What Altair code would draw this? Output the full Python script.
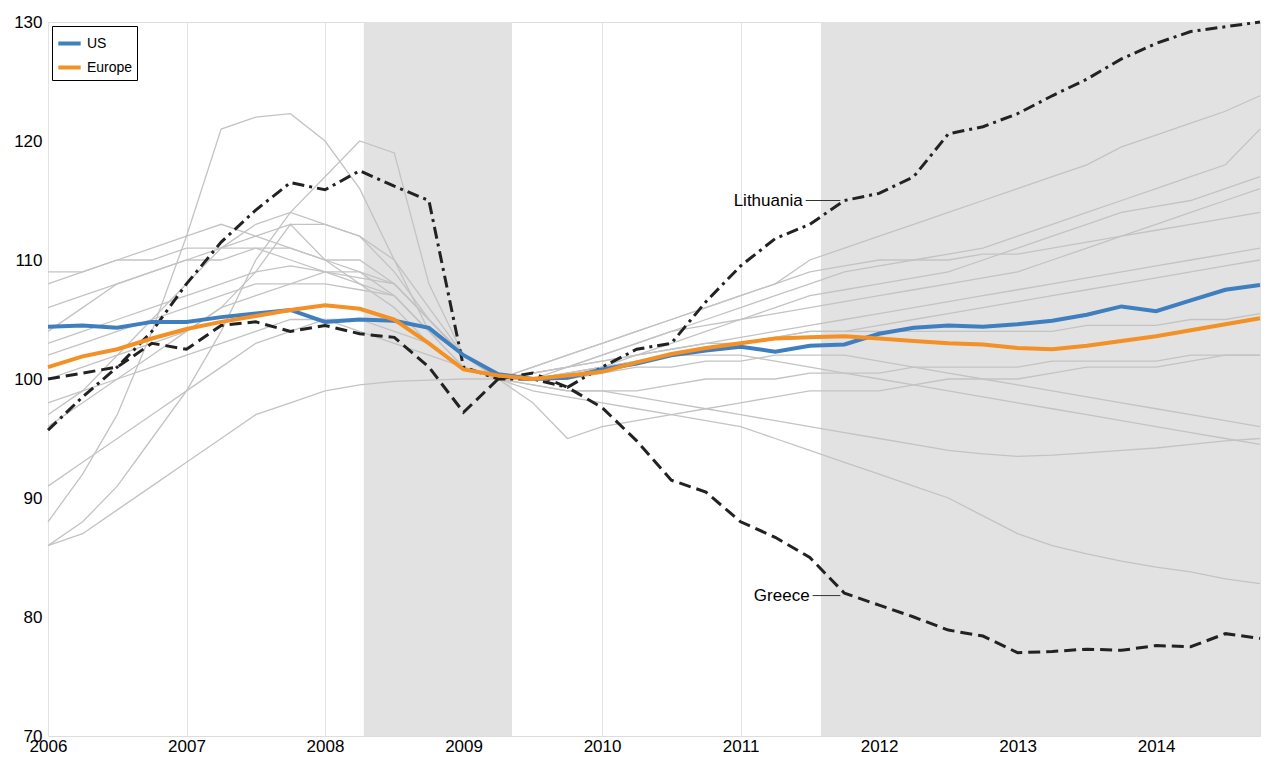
import pandas as pd
import altair as alt

years = [2006 + q * 0.25 for q in range(36)]

us = [104.4, 104.5, 104.3, 104.8, 104.8, 105.2, 105.5, 105.8, 104.8, 105.0, 104.9, 104.3,
      102.0, 100.4, 100.0, 100.1, 100.8, 101.3, 102.0, 102.4, 102.7, 102.3, 102.8, 102.9,
      103.8, 104.3, 104.5, 104.4, 104.6, 104.9, 105.4, 106.1, 105.7, 106.6, 107.5, 107.9]
europe = [101.0, 101.9, 102.5, 103.4, 104.2, 104.8, 105.3, 105.8, 106.2, 105.9, 105.0, 103.0,
          100.8, 100.3, 100.0, 100.3, 100.6, 101.4, 102.1, 102.6, 103.0, 103.4, 103.5, 103.6,
          103.4, 103.2, 103.0, 102.9, 102.6, 102.5, 102.8, 103.2, 103.6, 104.1, 104.6, 105.1]
lithuania = [95.7, 98.5, 101.0, 104.0, 108.0, 111.5, 114.2, 116.5, 115.9, 117.5, 116.2, 115.0,
             101.0, 100.0, 100.0, 99.3, 101.0, 102.5, 103.0, 106.5, 109.5, 111.8, 113.0, 115.0,
             115.6, 117.0, 120.6, 121.2, 122.3, 123.8, 125.2, 126.9, 128.2, 129.2, 129.6, 130.0]
greece = [100.0, 100.5, 101.0, 103.0, 102.5, 104.5, 104.8, 104.0, 104.5, 103.8, 103.5, 101.0,
          97.2, 100.0, 100.5, 99.3, 97.6, 94.8, 91.5, 90.5, 88.0, 86.7, 85.0, 82.0,
          81.0, 80.0, 78.9, 78.4, 77.0, 77.1, 77.3, 77.2, 77.6, 77.5, 78.6, 78.2]

others = [
    [88, 92, 97, 104, 112, 121, 122, 122.3, 120, 116, 110, 104, 101, 100, 100.5, 101, 102, 103, 104, 104.5,
     105, 105.5, 106, 106.5, 107, 107.5, 108, 108.5, 109, 110, 111, 112, 113, 114, 115, 116],
    [86, 88, 91, 95, 99, 104, 110, 114, 117, 120, 119, 108, 102, 100, 99.5, 99, 99, 98.5, 98, 97.5,
     97, 96.5, 96, 95.5, 95, 94.5, 94, 93.7, 93.5, 93.6, 93.8, 94, 94.2, 94.5, 94.8, 95],
    [97, 99, 102, 105, 108, 111, 113, 114, 113, 112, 109, 105, 102, 100, 101, 102, 103, 104, 105, 106,
     107, 108, 110, 111, 112, 113, 114, 115, 116, 117, 118, 119.5, 120.5, 121.5, 122.5, 123.8],
    [104, 106, 108, 109, 110, 110, 111, 111, 110, 109, 107, 104, 102, 100, 99, 98.5, 98, 97.5, 97, 96.5,
     96, 95, 94, 93, 92, 91, 90, 88.5, 87, 86, 85.3, 84.7, 84.2, 83.8, 83.2, 82.8],
    [108, 109, 110, 111, 112, 113, 112, 111, 110, 110, 108, 105, 102, 100, 101, 102, 103, 104, 105, 106,
     107, 108, 109, 109.5, 110, 110, 110.5, 111, 112, 113, 114, 115, 116, 117, 118, 121],
    [86, 87, 89, 91, 93, 95, 97, 98, 99, 99.5, 99.8, 99.9, 100, 100, 100.5, 101, 101.5, 102, 102.5, 103,
     103.5, 104, 104.5, 105, 105.5, 106, 106.5, 107, 107.5, 108, 108.5, 109, 109.5, 110, 110.5, 111],
    [100, 101, 102, 103, 104, 106, 109, 113, 110, 108, 106, 103, 101, 100, 98, 95, 96, 96.5, 97, 97.5,
     98, 98.5, 99, 99, 99, 99.5, 100, 100, 100, 100.5, 101, 101, 101, 101.5, 102, 102],
    [102, 103, 104, 105, 106, 107, 108, 108, 108, 107.5, 107, 104, 101, 100, 100, 100.5, 101, 101.5, 102, 102,
     102, 101.5, 101, 100.5, 100, 99.5, 99, 98.5, 98, 97.5, 97, 96.5, 96, 95.5, 95, 94.5],
    [109, 109, 110, 110, 111, 111, 111, 110, 109, 108, 107, 104, 102, 100, 100.5, 101, 101.5, 102, 102.5, 103,
     103, 103.5, 104, 104, 104.5, 105, 105.5, 106, 106.5, 107, 107.5, 108, 108.5, 109, 109.5, 110],
    [98, 99, 100, 101, 102, 103, 104, 105, 105, 104, 103, 102, 101, 100, 99.5, 99, 99, 99, 99.5, 100,
     100, 100, 100.5, 100.5, 100.5, 101, 101, 101, 101, 101.5, 101.5, 101.5, 101.5, 102, 102, 102],
    [91, 93, 95, 97, 99, 101, 103, 104, 105, 105, 104, 103, 101, 100, 100, 100.5, 101, 102, 103, 104,
     105, 106, 107, 107.5, 108, 108.5, 109, 110, 111, 112, 113, 114, 114.5, 115, 116, 117],
    [106, 107, 108, 109, 110, 111, 112, 113, 113, 112, 110, 106, 102, 100, 100, 100, 100.5, 101, 101, 101.5,
     101.5, 102, 102, 102, 101.5, 101, 100.5, 100, 99.5, 99, 98.5, 98, 97.5, 97, 96.5, 96],
    [103, 104, 105, 106, 107, 108, 109, 109.5, 109, 109, 108, 105, 102, 100, 100, 100.5, 101, 101.5, 102, 102.5,
     103, 103.5, 104, 104, 104, 104, 104, 104, 104, 104, 104.5, 104.5, 104.5, 105, 105, 105.5],
    [96, 98, 100, 102, 104, 106, 107, 108, 109, 108.5, 108, 105, 102, 100, 100, 101, 102, 103, 104, 105,
     106, 107, 108, 109, 109.5, 110, 110, 110.5, 110.5, 111, 111.5, 112, 112.5, 113, 113.5, 114],
]

recessions = pd.DataFrame({"start": [2008.28, 2011.58], "end": [2009.35, 2014.75]})

rows = []
for i, s in enumerate(others):
    rows += [{"year": y, "value": v, "country": f"c{i}"} for y, v in zip(years, s)]
grey = pd.DataFrame(rows)
main = pd.DataFrame(
    [{"year": y, "value": v, "series": "US"} for y, v in zip(years, us)]
    + [{"year": y, "value": v, "series": "Europe"} for y, v in zip(years, europe)]
)
lt = pd.DataFrame({"year": years, "value": lithuania})
gr = pd.DataFrame({"year": years, "value": greece})

xs = alt.Scale(domain=[2006, 2014.75], nice=False, zero=False)
ys = alt.Scale(domain=[70, 130], nice=False, zero=False)
X = alt.X("year:Q", scale=xs, title=None,
          axis=alt.Axis(values=list(range(2006, 2015)), format="d", ticks=False, labelFlush=False,
                        labelFontSize=17, gridColor="#e3e3e3", domain=False, labelPadding=2))
Y = alt.Y("value:Q", scale=ys, title=None,
          axis=alt.Axis(values=list(range(70, 131, 10)), ticks=False, labelFontSize=17, labelFlush=False,
                        gridColor="#e3e3e3", domain=False, labelPadding=6))

shade = alt.Chart(recessions).mark_rect(color="#e2e2e2").encode(
    x=alt.X("start:Q", scale=xs), x2="end:Q", y=alt.datum(70, scale=ys), y2=alt.datum(130))

greys = alt.Chart(grey).mark_line(color="#c3c3c3", strokeWidth=1.3).encode(
    x=X, y=Y, detail="country:N")

lith = alt.Chart(lt).mark_line(color="#222222", strokeWidth=3, strokeDash=[12, 5, 3, 5]).encode(x=X, y=Y)
gree = alt.Chart(gr).mark_line(color="#222222", strokeWidth=3, strokeDash=[12, 6]).encode(x=X, y=Y)

mains = alt.Chart(main).mark_line(strokeWidth=4).encode(
    x=X, y=Y,
    color=alt.Color("series:N", scale=alt.Scale(domain=["US", "Europe"], range=["#3f7fbf", "#f39026"]),
                    legend=alt.Legend(title=None, orient="top-left", symbolType="stroke",
                                      symbolStrokeWidth=4, symbolSize=500, labelFontSize=14,
                                      strokeColor="#000000", fillColor="white", padding=4,
                                      offset=4, rowPadding=2)),
)

labels = pd.DataFrame({"year": [2011.47, 2011.52], "value": [115, 81.8], "text": ["Lithuania", "Greece"],
                       "end": [2011.72, 2011.72]})
text = alt.Chart(labels).mark_text(align="right", baseline="middle", fontSize=17, dx=-3).encode(
    x=alt.X("year:Q", scale=xs), y=alt.Y("value:Q", scale=ys), text="text:N")
arrows = alt.Chart(labels).mark_rule(color="#333333", strokeWidth=1).encode(
    x=alt.X("year:Q", scale=xs), x2="end:Q", y=alt.Y("value:Q", scale=ys))

chart = alt.layer(shade, greys, lith, gree, mains, arrows, text).properties(
    width=1265, height=751,
    autosize=alt.AutoSizeParams(type="fit", contains="padding"),
).configure_view(stroke="#000000", strokeWidth=1).configure(font="Liberation Sans")

chart.save("out.html", embed_options={"renderer": "svg", "actions": False})
